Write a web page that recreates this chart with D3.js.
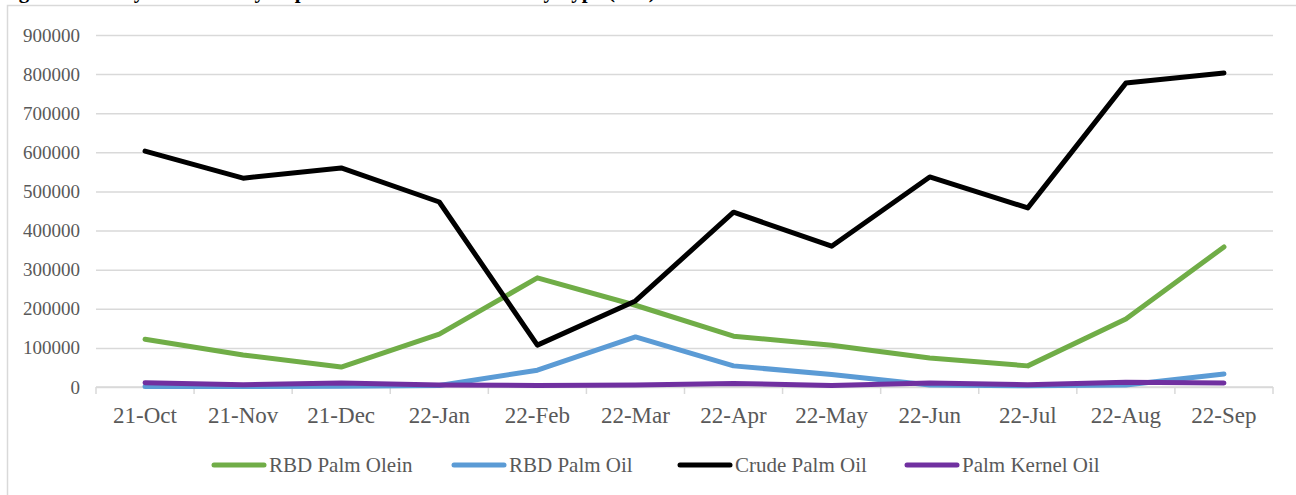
<!DOCTYPE html>
<html>
<head>
<meta charset="utf-8">
<script src="https://cdn.jsdelivr.net/npm/d3@7"></script>
<style>
  body { margin: 0; background: #fff; }
  svg { display: block; font-family: "Times New Roman", "Liberation Serif", serif; }
</style>
</head>
<body>
<div id="chart"></div>
<script>
// month labels and values (metric tonnes)
const months = ["21-Oct", "21-Nov", "21-Dec", "22-Jan", "22-Feb", "22-Mar",
                "22-Apr", "22-May", "22-Jun", "22-Jul", "22-Aug", "22-Sep"];
const rbdOlein  = [122000, 82000, 51000, 135000, 279000, 209000, 130000, 107000, 74000, 54000, 174000, 358000];
const rbdOil    = [1000, 1000, 2000, 4000, 43000, 128000, 54000, 32000, 5000, 3000, 5000, 33000];
const crudeOil  = [603000, 534000, 560000, 473000, 107000, 220000, 447000, 360000, 537000, 458000, 777000, 803000];
const kernelOil = [11000, 6000, 10000, 5000, 4000, 5000, 9000, 4000, 10000, 6000, 12000, 10000];
const yTicks = [0, 100000, 200000, 300000, 400000, 500000, 600000, 700000, 800000, 900000];

const series = [
    { name: "RBD Palm Olein",  values: rbdOlein,  color: "#70ad47" },
    { name: "RBD Palm Oil",    values: rbdOil,    color: "#5b9bd5" },
    { name: "Crude Palm Oil",  values: crudeOil,  color: "#000000" },
    { name: "Palm Kernel Oil", values: kernelOil, color: "#7030a0" }
];

const width = 1296,
      height = 495,
      margin = ({ top: 35, right: 23, bottom: 108, left: 96 });

const svg = d3.select("#chart")
    .append("svg")
    .attr("width", width)
    .attr("height", height);

// caption sits above the frame, mostly cut off
svg.append("text")
    .attr("x", 0)
    .attr("y", -2)
    .attr("font-size", 21)
    .attr("font-weight", 700)
    .attr("fill", "#000")
    .text("Figure 4: Malaysia's Monthly Export of Palm Oil Products by Type (MT)");

// chart frame
svg.append("rect")
    .attr("x", 7.5)
    .attr("y", 5.5)
    .attr("width", width + 20)
    .attr("height", height + 20)
    .attr("fill", "none")
    .attr("stroke", "#d9d9d9")
    .attr("stroke-width", 1.5);

let x = d3.scaleBand()
    .domain(months)
    .range([margin.left, width - margin.right]);

let y = d3.scaleLinear()
    .domain([0, 900000])
    .range([height - margin.bottom, margin.top]);

// horizontal gridlines + y labels
svg.append("g")
    .attr("transform", `translate(${margin.left},0)`)
    .call(d3.axisLeft(y)
        .tickValues(yTicks)
        .tickFormat(d => d)
        .tickSize(-(width - margin.left - margin.right))
        .tickPadding(16))
    .call(g => g.select(".domain").remove())
    .call(g => g.selectAll(".tick line").attr("stroke", "#d9d9d9").attr("stroke-width", 1.5))
    .call(g => g.selectAll(".tick text")
        .attr("font-family", "'Times New Roman', 'Liberation Serif', serif")
        .attr("font-size", 19)
        .attr("fill", "#595959"));

// x axis with ticks on band boundaries
const xAxis = svg.append("g")
    .attr("transform", `translate(0,${height - margin.bottom})`);

xAxis.append("line")
    .attr("x1", margin.left)
    .attr("x2", width - margin.right)
    .attr("stroke", "#d9d9d9")
    .attr("stroke-width", 1.5);

const bounds = months.map(m => x(m)).concat([x(months[months.length - 1]) + x.bandwidth()]);
xAxis.selectAll("line.tk")
    .data(bounds)
    .join("line")
    .attr("class", "tk")
    .attr("x1", d => d)
    .attr("x2", d => d)
    .attr("y1", 0)
    .attr("y2", 7)
    .attr("stroke", "#d9d9d9")
    .attr("stroke-width", 1.5);

xAxis.selectAll("text")
    .data(months)
    .join("text")
    .attr("x", d => x(d) + x.bandwidth() / 2)
    .attr("y", 36)
    .attr("text-anchor", "middle")
    .attr("font-size", 23)
    .attr("fill", "#595959")
    .text(d => d);

let line = d3.line()
    .x((d, i) => x(months[i]) + x.bandwidth() / 2)
    .y(d => y(d));

svg.selectAll("path.series")
    .data(series)
    .join("path")
    .attr("class", "series")
    .attr("d", d => line(d.values))
    .attr("fill", "none")
    .attr("stroke", d => d.color)
    .attr("stroke-width", 5)
    .attr("stroke-linejoin", "round")
    .attr("stroke-linecap", "round");

// legend
const legendX = [214, 454, 680, 907];
const legend = svg.append("g").attr("transform", "translate(0,465)");

const item = legend.selectAll("g")
    .data(series)
    .join("g")
    .attr("transform", (d, i) => `translate(${legendX[i]},0)`);

item.append("line")
    .attr("x1", 0)
    .attr("x2", 50)
    .attr("stroke", d => d.color)
    .attr("stroke-width", 5)
    .attr("stroke-linecap", "round");

item.append("text")
    .attr("x", 55)
    .attr("y", 7)
    .attr("font-size", 21)
    .attr("fill", "#595959")
    .text(d => d.name);
</script>
</body>
</html>
